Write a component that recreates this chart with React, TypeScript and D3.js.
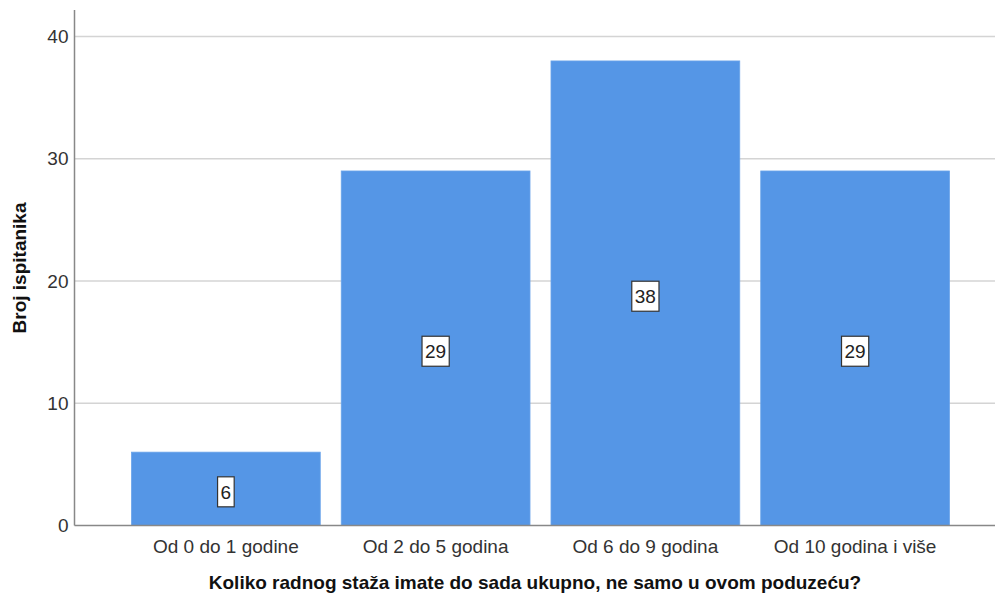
import React from "react";
import * as d3 from "d3";

const categories = ["Od 0 do 1 godine", "Od 2 do 5 godina", "Od 6 do 9 godina", "Od 10 godina i više"];
const values = [6, 29, 38, 29];
const yTicks = [0, 10, 20, 30, 40];
const xTitle = "Koliko radnog staža imate do sada ukupno, ne samo u ovom poduzeću?";
const yTitle = "Broj ispitanika";

export default function App() {
  const W = 995, H = 595;
  const axisX = 74.5, axisTop = 10, right = 995;
  const x = d3.scaleBand<string>().domain(categories).range([121, 960]).paddingInner(0.1).paddingOuter(0.05);
  const y = d3.scaleLinear().domain([0, 40]).range([525.5, 36.5]);
  const font = "Arial, 'Liberation Sans', sans-serif";
  const fs = 19;
  return (
    <svg width={W} height={H} style={{ position: "absolute", left: 0, top: 0, background: "#fff" }} fontFamily={font}>
      {yTicks.map((t) => (
        <g key={t}>
          {t > 0 && <line x1={axisX} x2={right} y1={y(t)} y2={y(t)} stroke="#d4d4d4" strokeWidth={1.5} />}
          <text x={axisX - 6} y={y(t)} dy="0.35em" textAnchor="end" fontSize={fs} fill="#333">{t}</text>
        </g>
      ))}
      {categories.map((c, i) => (
        <rect key={c} x={x(c)} y={y(values[i])} width={x.bandwidth()} height={y(0) - y(values[i])} fill="#5596e6" stroke="#6aa4ea" strokeWidth={0.8} />
      ))}
      <line x1={axisX} x2={axisX} y1={axisTop} y2={y(0)} stroke="#888" strokeWidth={1.5} />
      <line x1={axisX} x2={right} y1={y(0)} y2={y(0)} stroke="#888" strokeWidth={1.5} />
      {categories.map((c, i) => {
        const cx = (x(c) as number) + x.bandwidth() / 2;
        const cy = y(values[i] / 2) + 3;
        const label = String(values[i]);
        const bw = label.length * 10.6 + 6;
        return (
          <g key={"l" + c}>
            <rect x={cx - bw / 2} y={cy - 15} width={bw} height={30} fill="#fff" stroke="#333" strokeWidth={1.2} />
            <text x={cx} y={cy} dy="0.36em" textAnchor="middle" fontSize={fs} fill="#222">{label}</text>
          </g>
        );
      })}
      {categories.map((c) => (
        <text key={"x" + c} x={(x(c) as number) + x.bandwidth() / 2} y={546} dy="0.35em" textAnchor="middle" fontSize={fs} fill="#333">{c}</text>
      ))}
      <text x={535} y={582} dy="0.35em" textAnchor="middle" fontSize={fs} fontWeight="bold" fill="#111">{xTitle}</text>
      <text transform={`translate(19,${268}) rotate(-90)`} dy="0.35em" textAnchor="middle" fontSize={fs} fontWeight="bold" fill="#111">{yTitle}</text>
    </svg>
  );
}
